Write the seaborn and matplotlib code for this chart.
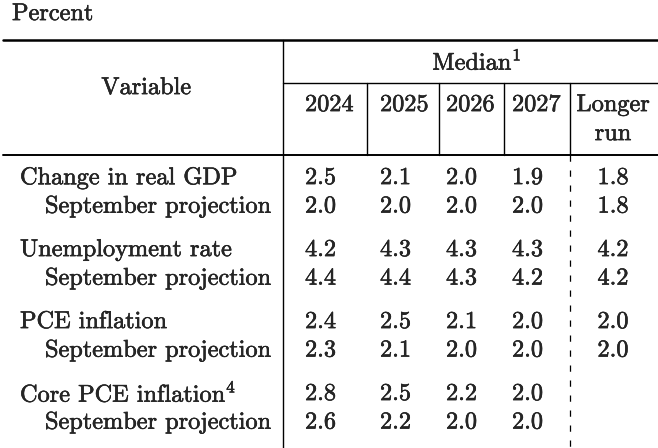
import numpy as np
import pandas as pd
import seaborn as sns
import matplotlib.pyplot as plt
import matplotlib.patheffects as pe

# dados da tabela (mediana das projeções)
variables = ["Change in real GDP", "Unemployment rate", "PCE inflation", "Core PCE inflation$^4$"]
years = ["2024", "2025", "2026", "2027"]
median = [[2.5, 2.1, 2.0, 1.9],
          [4.2, 4.3, 4.3, 4.3],
          [2.4, 2.5, 2.1, 2.0],
          [2.8, 2.5, 2.2, 2.0]]
september = [[2.0, 2.0, 2.0, 2.0],
             [4.4, 4.4, 4.3, 4.2],
             [2.3, 2.1, 2.0, 2.0],
             [2.6, 2.2, 2.0, 2.0]]
longer_run = [1.8, 4.2, 2.0, np.nan]
september_longer_run = [1.8, 4.2, 2.0, np.nan]

sns.set_theme(style="white")
plt.rcParams["font.family"] = ["cmr10", "DejaVu Serif"]
plt.rcParams["mathtext.fontset"] = "cm"
plt.rcParams["axes.formatter.use_mathtext"] = True
plt.rcParams["path.effects"] = [pe.withStroke(linewidth=0.35, foreground="black")]

fs = 17.5
fig = plt.figure(figsize=(6.58, 4.48), dpi=100)
ax = fig.add_axes([0, 0, 1, 1])
ax.set_xlim(0, 658)
ax.set_ylim(448, 0)
ax.axis("off")

# grade da tabela
col_left = [305, 380, 446, 512]
col_lines = [367, 439, 504]
line_kw = dict(color="black", path_effects=[])
ax.plot([3, 658], [40, 40], lw=1.8, **line_kw)
ax.plot([283, 283], [40, 448], lw=1, **line_kw)
ax.plot([283, 658], [83, 83], lw=1, **line_kw)
ax.plot([3, 658], [155, 155], lw=1.4, **line_kw)
for x in col_lines:
    ax.plot([x, x], [83, 155], lw=1, **line_kw)
ax.plot([570, 570], [83, 155], lw=1, **line_kw)
ax.plot([570, 570], [155, 448], lw=0.9, linestyle=(0, (5, 7)), **line_kw)

# cabeçalho
ax.text(12, 14, "Percent", fontsize=fs, ha="left", va="center")
ax.text(146, 88, "Variable", fontsize=fs, ha="center", va="center")
ax.text(477, 62, "Median$^1$", fontsize=fs, ha="center", va="center")
for x, y in zip(col_left, years):
    ax.text(x, 105, y, fontsize=fs, ha="left", va="center")
ax.text(613, 105, "Longer", fontsize=fs, ha="center", va="center")
ax.text(613, 134, "run", fontsize=fs, ha="center", va="center")

# linhas de dados
rows = pd.DataFrame({"variable": variables, "longer": longer_run, "sept_longer": september_longer_run})
for i, row in rows.iterrows():
    y0 = 178 + i * 72
    y1 = y0 + 28.5
    ax.text(20, y0, row["variable"], fontsize=fs, ha="left", va="center")
    ax.text(45, y1, "September projection", fontsize=fs, ha="left", va="center")
    for j, x in enumerate(col_left):
        ax.text(x, y0, f"{median[i][j]:.1f}", fontsize=fs, ha="left", va="center")
        ax.text(x, y1, f"{september[i][j]:.1f}", fontsize=fs, ha="left", va="center")
    if pd.notnull(row["longer"]):
        ax.text(613, y0, f"{row['longer']:.1f}", fontsize=fs, ha="center", va="center")
    if pd.notnull(row["sept_longer"]):
        ax.text(613, y1, f"{row['sept_longer']:.1f}", fontsize=fs, ha="center", va="center")

fig.savefig("out.png", dpi=100)
